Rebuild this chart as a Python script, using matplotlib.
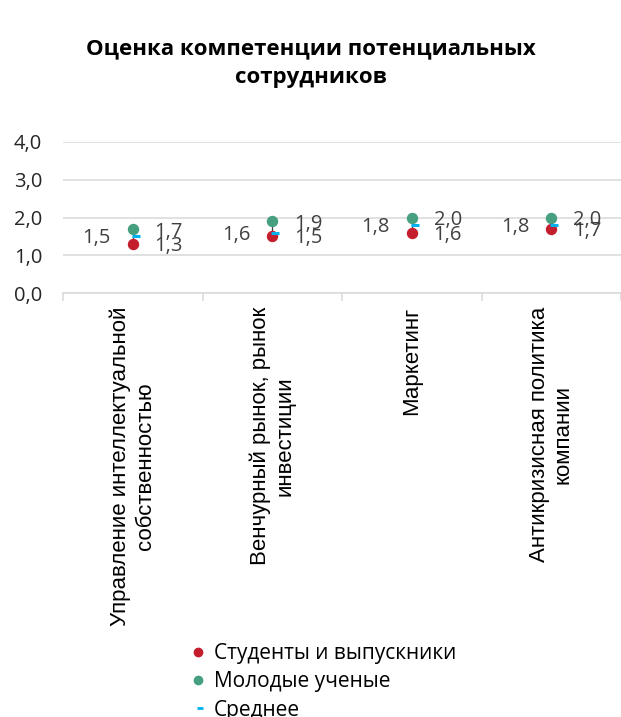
import numpy as np
import matplotlib
matplotlib.use("Agg")
import matplotlib.pyplot as plt
from matplotlib.path import Path
from matplotlib.lines import Line2D
from matplotlib.ticker import FuncFormatter

plt.rcParams['font.family'] = ['Open Sans', 'DejaVu Sans']

# Data
categories = [
    'Управление интеллектуальной\nсобственностью',
    'Венчурный рынок, рынок\nинвестиции',
    'Маркетинг',
    'Антикризисная политика\nкомпании',
]
students = [1.3, 1.5, 1.6, 1.7]
young_scientists = [1.7, 1.9, 2.0, 2.0]
average = [1.5, 1.6, 1.8, 1.8]
series_names = ['Студенты и выпускники', 'Молодые ученые', 'Среднее']
yticks = [0.0, 1.0, 2.0, 3.0, 4.0]

RED = '#C41E2E'
GREEN = '#46A080'
BLUE = '#00B0F0'
LABEL = '#404040'

fig = plt.figure(figsize=(6.21, 7.17), dpi=100)
W, H = 621, 717
# plot area in pixels: left 63, right 621, top 142, bottom 293
ax = fig.add_axes([63 / W, (H - 293) / H, 558 / W, (293 - 142) / H])

x = np.arange(len(categories))

# dash marker that starts at the point and runs to the right
dash = Path([(-0.15, 0), (1, 0)], [Path.MOVETO, Path.LINETO])

# high-low lines
ax.vlines(x, students, young_scientists, color='#404040', lw=0.9, zorder=2)
ax.plot(x, young_scientists, 'o', color=GREEN, ms=7.2, mec=GREEN, zorder=3)
ax.plot(x, students, 'o', color=RED, ms=7.2, mec=RED, zorder=3)
ax.plot(x, average, marker=dash, ls='none', ms=10, mew=2.2, color=BLUE, zorder=4)

fmt = lambda v: f'{v:.1f}'.replace('.', ',')

for xi, s, y, m in zip(x, students, young_scientists, average):
    ax.annotate(fmt(m), (xi, m), xytext=(-36, -2), textcoords='offset pixels',
                ha='center', va='center', fontsize=14.5, color=LABEL)
    ax.annotate(fmt(y), (xi, y), xytext=(36, -3), textcoords='offset pixels',
                ha='center', va='center', fontsize=14.5, color=LABEL)
    ax.annotate(fmt(s), (xi, s), xytext=(36, -2), textcoords='offset pixels',
                ha='center', va='center', fontsize=14.5, color=LABEL)

ax.set_xlim(-0.5, len(categories) - 0.5)
ax.set_ylim(0, 4)
ax.set_yticks(yticks)
ax.yaxis.set_major_formatter(FuncFormatter(lambda v, p: fmt(v)))
ax.tick_params(axis='y', length=0, pad=15, labelsize=14.5, labelcolor='#262626')
ax.grid(axis='y', color='#D9D9D9', lw=1.1)
ax.set_axisbelow(True)

# category boundaries as ticks, labels at centers
ax.set_xticks(np.arange(len(categories) + 1) - 0.5)
ax.set_xticklabels([])
ax.tick_params(axis='x', length=6, width=1.1, color='#D9D9D9', direction='out')
for xi, c in zip(x, categories):
    ax.text(xi, -0.36, c, rotation=90, ha='center', va='top', multialignment='center',
            fontsize=16, family=['Liberation Sans', 'DejaVu Sans'], color='black',
            linespacing=1.2)

for sp in ['top', 'right', 'left']:
    ax.spines[sp].set_visible(False)
ax.spines['bottom'].set_color('#D9D9D9')
ax.spines['bottom'].set_linewidth(1.1)

fig.text(0.5, 1 - 63 / H, 'Оценка компетенции потенциальных\nсотрудников',
         ha='center', va='center', fontsize=16, fontweight='bold', linespacing=1.45)

handles = [
    Line2D([], [], marker='o', ls='none', color=RED, ms=6),
    Line2D([], [], marker='o', ls='none', color=GREEN, ms=6),
    Line2D([], [], marker=dash, ls='none', color=BLUE, ms=7, mew=2),
]
fig.legend(handles, series_names, loc='upper left', bbox_to_anchor=(192 / W, 1 - 643 / H),
           frameon=False, fontsize=15, handlelength=0.6, handletextpad=0.45,
           labelspacing=0.35, borderpad=0, borderaxespad=0)

fig.savefig('out.png', dpi=100)
